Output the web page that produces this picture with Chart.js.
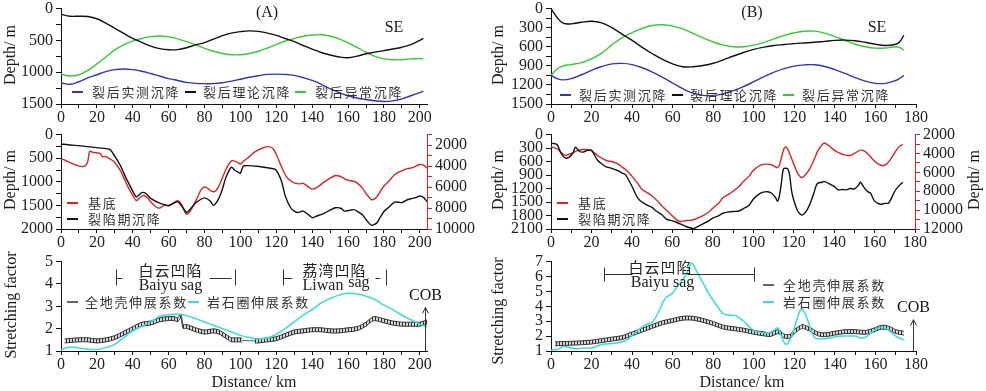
<!DOCTYPE html>
<html>
<head>
<meta charset="utf-8">
<script src="https://cdn.jsdelivr.net/npm/chart.js@4.4.1/dist/chart.umd.min.js"></script>
<style>
  html, body { margin: 0; padding: 0; background: #fff; }
  body { width: 986px; height: 391px; position: relative; overflow: hidden; }
  canvas { position: absolute; }
</style>
</head>
<body>
<script>
// ---- (A) post-rift subsidence ----
const topA_km = [0,5,10,15,20,25,30,35,40,45,50,55,60,65,70,75,80,85,90,95,100,105,110,115,120,125,130,135,140,145,150,155,160,165,170,175,180,185,190,195,200,202];
const topA_measured = [1170,1190,1150,1090,1040,990,960,950,960,985,1020,1060,1100,1130,1160,1175,1180,1180,1165,1140,1110,1080,1055,1035,1030,1035,1050,1085,1130,1190,1260,1320,1370,1405,1430,1450,1460,1450,1420,1370,1320,1300];
const topA_theory = [90,120,120,125,160,230,310,390,470,530,590,630,648,645,615,571,535,480,425,385,362,350,358,385,420,470,520,580,638,690,730,760,772,748,710,685,660,635,607,565,500,470];
const topA_anomaly = [1030,1060,1040,970,870,760,650,570,510,470,440,430,445,475,520,570,625,670,705,725,725,705,670,620,565,510,470,435,415,410,430,475,540,610,690,750,790,805,805,790,785,795];

// ---- (B) post-rift subsidence ----
const topB_km = [0,3,6,10,15,20,25,30,35,40,45,50,55,60,65,70,75,80,85,90,95,100,105,110,115,120,125,130,135,140,145,150,155,160,165,170,172,174];
const topB_measured = [1050,1100,1120,1100,1040,970,910,870,862,880,930,1000,1080,1170,1260,1330,1365,1365,1340,1290,1225,1150,1070,1000,945,905,885,882,910,960,1020,1085,1140,1175,1175,1130,1095,1050];
const topB_theory = [0,140,230,240,215,200,225,300,400,500,610,710,800,870,915,915,895,860,805,745,690,640,605,580,565,550,540,530,515,500,495,505,530,560,580,560,520,420];
const topB_anomaly = [1050,950,900,880,850,790,700,570,460,380,310,265,255,275,320,390,460,525,575,600,600,575,530,475,420,380,355,355,385,440,500,560,600,622,620,600,615,650];

// ---- (A) basement / syn-rift subsidence ----
const midA_rift_km = [0,27,29,31,33,36,38,40,42,45,47,50,55,60,63,65,67,70,72,75,78,80,83,85,88,90,92,95,97,99,100,102,119,121,123,125,128,130,132,135,138,140,143,146,150,153,156,158,160,163,165,168,170,173,176,178,180,183,186,190,193,195,198,200,202,204];
const midA_rift = [200,310,400,520,650,900,1050,1200,1320,1230,1240,1350,1450,1500,1450,1420,1500,1650,1580,1450,1370,1340,1400,1500,1350,1150,900,690,760,800,820,660,730,820,1000,1300,1550,1620,1650,1620,1700,1760,1720,1680,1600,1550,1560,1620,1610,1590,1620,1700,1800,1920,1870,1750,1630,1530,1430,1440,1380,1360,1330,1300,1330,1420];
const midA_base_km = [0,3,6,9,12,14,15,16,18,20,22,23,25,27,29,31,33,36,38,40,42,44,46,48,50,53,55,58,60,62,65,67,70,72,74,76,78,80,82,84,86,88,90,92,95,98,100,102,105,108,112,115,118,120,122,124,126,128,130,133,135,138,140,143,146,150,153,155,158,160,163,165,168,170,173,175,177,180,183,186,190,193,196,200,202,204];
const midA_base = [3300,3500,3750,3950,4050,3900,3500,2600,2700,2750,2800,3100,3100,3300,3500,3900,4400,5500,6200,6800,7300,7000,6800,7000,7400,7900,8000,7700,7800,7600,7300,7600,8600,8300,7700,7000,6300,6000,6150,6400,6400,5900,5100,4300,3500,3600,3800,3500,3100,2650,2300,2150,2300,2900,3700,4500,5100,5400,5600,5700,5650,6000,6200,6000,5600,5150,4900,4950,5200,5350,5450,5600,6100,6600,7200,7100,6700,5900,5400,4800,4450,4250,4150,3850,3900,4200];

// ---- (B) basement / syn-rift subsidence ----
const midB_rift_km = [0,3,5,7,9,11,12,14,16,18,20,23,25,27,30,33,35,37,40,43,45,48,50,52,55,57,60,62,65,67,70,72,75,78,80,83,85,88,90,93,95,98,100,103,105,107,109,111,112,113,114,115,117,118,119,120,122,124,126,128,130,131,132,134,135,137,140,142,144,146,148,150,152,153,155,157,158,160,163,165,167,170,172,174];
const midB_rift = [190,220,420,520,500,400,280,370,390,350,350,570,650,710,750,800,850,900,1150,1420,1500,1580,1620,1700,1790,1880,1920,1950,2010,2050,2090,2060,1990,1920,1860,1800,1750,1720,1710,1700,1650,1570,1440,1320,1280,1270,1300,1400,1480,1350,1050,760,760,900,1260,1450,1700,1790,1720,1550,1300,1150,1080,1060,1040,1080,1150,1230,1220,1230,1200,1210,1130,1060,1190,1280,1300,1480,1550,1530,1520,1260,1140,1060];
const midB_base_km = [0,3,5,7,10,13,15,18,20,23,25,28,30,33,35,38,40,43,45,48,50,53,55,58,60,62,64,67,70,73,75,78,80,83,85,88,90,93,95,98,100,103,105,108,110,112,113,115,116,117,118,120,122,124,126,128,130,132,135,137,140,143,145,148,150,153,155,157,159,161,164,166,168,170,172,174];
const midB_base = [3300,3500,3900,4200,4000,3700,3600,3600,3700,4200,4500,4800,4850,5100,5400,5900,6400,7200,7800,8200,8500,9100,9600,10200,10600,11000,11200,11100,11050,10800,10600,10200,9800,9250,8700,8300,8000,7500,7000,6400,5800,5300,5150,5150,5300,5500,5200,3600,3300,3500,4000,5100,6100,6550,6200,5600,4700,3700,2900,3100,3650,4000,4150,4200,4000,3650,3750,4100,4600,5000,5300,5100,4600,3900,3300,3050];

// ---- (A) stretching factors ----
const botA_litho_km = [0,3,6,10,15,20,25,30,35,40,45,50,55,60,65,70,75,80,85,90,95,100,105,110,115,120,125,130,135,140,145,150,155,160,165,170,175,180,185,190,195,200,204];
const botA_litho = [1.05,1.15,1.17,1.14,1.08,1.07,1.15,1.3,1.6,1.9,2.1,2.3,2.55,2.62,2.65,2.58,2.45,2.3,2.15,2.0,1.85,1.7,1.6,1.55,1.58,1.75,2.0,2.3,2.6,2.85,3.15,3.35,3.5,3.58,3.55,3.45,3.3,3.05,2.85,2.6,2.4,2.2,2.08];
const botA_crust_km = [2,5,10,15,20,25,30,35,40,45,50,55,60,63,65,66,67,68,70,75,80,85,88,90,93,95,100,101,104,108,110,115,120,125,130,135,140,145,150,155,160,165,170,173,175,180,185,190,195,200,204];
const botA_crust = [1.45,1.47,1.5,1.5,1.45,1.5,1.6,1.8,2.0,2.2,2.25,2.4,2.45,2.45,2.4,2.5,2.55,2.1,2.1,1.95,1.85,1.9,1.85,1.75,1.6,1.5,1.5,1.47,null,1.45,1.45,1.5,1.55,1.7,1.85,1.9,1.95,1.95,1.9,1.9,1.95,2.0,2.2,2.4,2.45,2.35,2.25,2.2,2.2,2.2,2.3];
const botA_gap_km = [100,110];
const botA_gap = [1.47,1.45];

// ---- (B) stretching factors ----
const botB_litho_km = [0,3,6,8,10,13,16,20,23,26,30,35,38,40,43,46,50,53,55,57,58,60,62,64,66,68,69,70,72,74,76,78,80,82,85,88,91,93,95,98,100,103,106,109,111,112,113,115,116,117,119,121,123,124,126,128,130,133,137,140,145,150,153,156,160,163,166,170,174];
const botB_litho = [1.05,1.1,1.3,1.28,1.2,1.15,1.2,1.2,1.35,1.45,1.5,1.6,1.8,2.05,2.4,2.7,2.95,3.6,4.2,4.65,4.7,4.9,5.3,5.6,6.0,6.5,6.9,6.85,6.3,5.8,5.3,4.8,4.4,4.0,3.5,3.4,3.38,3.2,3.0,2.6,2.38,2.25,2.2,2.3,2.5,2.55,2.2,1.55,1.45,1.55,2.1,3.0,3.75,3.8,3.3,2.5,1.9,1.8,1.85,1.95,2.0,2.0,1.85,2.0,2.45,2.6,2.45,2.0,1.75];
const botB_crust_km = [2,5,10,15,20,25,30,35,40,45,50,55,60,65,70,75,80,85,90,95,100,105,108,110,112,113,115,118,120,122,124,126,128,130,133,136,140,145,150,155,158,160,163,166,168,170,174];
const botB_crust = [1.48,1.5,1.52,1.55,1.6,1.7,1.8,1.9,2.15,2.4,2.65,2.9,3.05,3.2,3.2,3.05,2.85,2.6,2.5,2.4,2.25,2.15,2.1,2.2,2.3,2.25,2.0,2.0,2.3,2.5,2.65,2.55,2.45,2.25,2.1,2.1,2.2,2.3,2.3,2.25,2.35,2.45,2.6,2.55,2.45,2.3,2.2];

const SERIF = '"Liberation Serif", "Times New Roman", serif';
const CJK = '"Noto Sans CJK SC", sans-serif';
const BLUE = '#3232c4', GREEN = '#33cc33', RED = '#dd2222', CYAN = '#35dede', INK = '#111';

const pts = (xs, ys) => xs.map((x, i) => ({ x: x, y: ys[i] }));
const shift = (ys, d) => ys.map(v => v == null ? null : v + d);

function line(xs, ys, color, extra) {
  return Object.assign({ data: pts(xs, ys), borderColor: color, borderWidth: 1.4,
    pointRadius: 0, fill: false, tension: 0.4 }, extra || {});
}

// hatch used for the crustal stretching band
const hatch = (() => {
  const c = document.createElement('canvas');
  c.width = 3; c.height = 3;
  const g = c.getContext('2d');
  g.fillStyle = '#d6d6d6'; g.fillRect(0, 0, 3, 3);
  g.fillStyle = '#2e2e2e'; g.fillRect(0, 0, 1, 3);
  return g.createPattern(c, 'repeat');
})();

function bandSets(xs, ys, h) {
  return [
    line(xs, shift(ys, h), '#333', { borderWidth: 1, tension: 0.3, order: 1 }),
    line(xs, shift(ys, -h), '#333', { borderWidth: 1, tension: 0.3, order: 1, fill: '-1', backgroundColor: hatch })
  ];
}

function xAxis(max, h) {
  return {
    type: 'linear', min: 0, max: max,
    afterFit(s) { s.height = h; },
    border: { color: INK, width: 1 },
    grid: { drawOnChartArea: false, tickLength: 4, color: INK },
    ticks: { stepSize: 10, includeBounds: false, autoSkip: false, maxRotation: 0, padding: 0,
      color: '#222', font: { family: SERIF, size: 16 },
      callback: v => (v % 20 === 0 ? v : '') }
  };
}

function yAxis(pos, min, max, step, every, w, color, reverse) {
  return {
    type: 'linear', position: pos, min: min, max: max, reverse: reverse,
    afterFit(s) { s.width = w; },
    border: { color: color, width: 1 },
    grid: { drawOnChartArea: false, tickLength: 5, color: color },
    ticks: { stepSize: step, includeBounds: false, autoSkip: false, padding: 3,
      color: '#222', font: { family: SERIF, size: 16 },
      callback: v => (Math.abs(v % every) < 1e-6 ? v : '') }
  };
}

const decorPlugin = {
  id: 'decor',
  afterDraw(chart) {
    const d = chart.canvas._decor;
    if (!d) return;
    const ctx = chart.ctx, X = chart.scales.x, Y = chart.scales.y;
    const px = v => X.getPixelForValue(v), py = v => Y.getPixelForValue(v);
    ctx.save();
    ctx.textAlign = 'center';
    ctx.textBaseline = 'middle';
    ctx.strokeStyle = '#333';
    ctx.lineWidth = 1;
    (d.segs || []).forEach(s => {
      ctx.beginPath();
      ctx.moveTo(Math.round(px(s[0])) + 0.5, Math.round(py(s[1])) + 0.5);
      ctx.lineTo(Math.round(px(s[2])) + 0.5, Math.round(py(s[3])) + 0.5);
      ctx.stroke();
    });
    if (d.arrow) {
      const a = d.arrow, x = Math.round(px(a.x)) + 0.5, y0 = py(a.y0), y1 = py(a.y1);
      ctx.beginPath();
      ctx.moveTo(x, y0); ctx.lineTo(x, y1);
      ctx.moveTo(x - 3, y1 + 6); ctx.lineTo(x, y1); ctx.lineTo(x + 3, y1 + 6);
      ctx.stroke();
      ctx.fillStyle = '#111';
      ctx.font = '16px ' + SERIF;
      ctx.fillText('COB', x, y1 - 12);
    }
    (d.notes || []).forEach(t => {
      ctx.fillStyle = '#222';
      ctx.font = t.f;
      ctx.letterSpacing = t.ls || '0px';
      ctx.fillText(t.s, px(t.x), py(t.y));
    });
    ctx.letterSpacing = '0px';
    ctx.translate(-d.ox, -d.oy);
    (d.texts || []).forEach(t => {
      ctx.save();
      ctx.fillStyle = '#1a1a1a';
      ctx.textAlign = 'center';
      ctx.font = t.f;
      ctx.translate(t.x, t.y);
      if (t.r) ctx.rotate(t.r);
      ctx.fillText(t.s, 0, 0);
      ctx.restore();
    });
    (d.legend || []).forEach(l => {
      ctx.strokeStyle = l.c;
      ctx.lineWidth = 2;
      ctx.beginPath();
      ctx.moveTo(l.x, l.y); ctx.lineTo(l.x + 11, l.y);
      ctx.stroke();
      ctx.fillStyle = '#333';
      ctx.textAlign = 'left';
      ctx.font = '13px ' + CJK;
      ctx.letterSpacing = '1.7px';
      ctx.fillText(l.s, l.tx, l.y);
      ctx.letterSpacing = '0px';
    });
    ctx.restore();
  }
};
Chart.register(decorPlugin);

function panel(box, plot, datasets, scales, decor) {
  const c = document.createElement('canvas');
  c.width = box.w; c.height = box.h;
  c.style.left = box.x + 'px'; c.style.top = box.y + 'px';
  c._decor = Object.assign({ ox: box.x, oy: box.y }, decor);
  document.body.appendChild(c);
  return new Chart(c, {
    type: 'line',
    data: { datasets: datasets },
    options: {
      responsive: false, animation: false, events: [],
      layout: { padding: { top: plot.t - box.y, left: 0, bottom: 0,
        right: box.x + box.w - plot.r - (plot.rw || 0) } },
      scales: scales,
      plugins: { legend: { display: false }, tooltip: { enabled: false } }
    }
  });
}

const yTitle = (s, x, y) => ({ s: s, x: x, y: y, r: -Math.PI / 2, f: '16px ' + SERIF });
const big = (s, x, y) => ({ s: s, x: x, y: y, f: '16px ' + SERIF });

// top row
panel({ x: 0, y: -4, w: 490, h: 130 }, { t: 6, r: 427 },
  [line(topA_km, topA_measured, BLUE), line(topA_km, topA_theory, INK), line(topA_km, topA_anomaly, GREEN)],
  { x: xAxis(204, 22), y: yAxis('left', 0, 1500, 250, 500, 61, INK, true) },
  { texts: [yTitle('Depth/ m', 11, 55), big('(A)', 267, 13), big('SE', 394, 28)],
    legend: [{ c: BLUE, x: 72, y: 92, tx: 92, s: '裂后实测沉降' },
             { c: INK, x: 185, y: 92, tx: 203, s: '裂后理论沉降' },
             { c: GREEN, x: 295, y: 92, tx: 315, s: '裂后异常沉降' }] });

panel({ x: 490, y: -4, w: 496, h: 130 }, { t: 6, r: 916 },
  [line(topB_km, topB_measured, BLUE), line(topB_km, topB_theory, INK), line(topB_km, topB_anomaly, GREEN)],
  { x: xAxis(180, 22), y: yAxis('left', 0, 1500, 150, 300, 61, INK, true) },
  { texts: [yTitle('Depth/ m', 499, 55), big('(B)', 752, 13), big('SE', 877, 28)],
    legend: [{ c: BLUE, x: 560, y: 95, tx: 579, s: '裂后实测沉降' },
             { c: INK, x: 672, y: 95, tx: 690, s: '裂后理论沉降' },
             { c: GREEN, x: 783, y: 95, tx: 802, s: '裂后异常沉降' }] });

// middle row
panel({ x: 0, y: 122, w: 490, h: 129 }, { t: 132, r: 427, rw: 63 },
  [line(midA_rift_km, midA_rift, INK, { tension: 0.25 }),
   line(midA_base_km, midA_base, RED, { tension: 0.3, yAxisID: 'y2' })],
  { x: xAxis(204, 22), y: yAxis('left', 0, 2000, 250, 500, 61, INK, true),
    y2: yAxis('right', 1000, 10000, 1000, 2000, 63, RED, true) },
  { texts: [yTitle('Depth/ m', 11, 180)],
    legend: [{ c: RED, x: 67, y: 203, tx: 88, s: '基底' },
             { c: INK, x: 67, y: 219, tx: 88, s: '裂陷期沉降' }] });

panel({ x: 490, y: 122, w: 496, h: 129 }, { t: 132, r: 915, rw: 71 },
  [line(midB_rift_km, midB_rift, INK, { tension: 0.25 }),
   line(midB_base_km, midB_base, RED, { tension: 0.3, yAxisID: 'y2' })],
  { x: xAxis(180, 22), y: yAxis('left', 0, 2100, 300, 300, 61, INK, true),
    y2: yAxis('right', 2000, 12000, 1000, 2000, 71, RED, true) },
  { texts: [yTitle('Depth/ m', 499, 180), yTitle('Depth/ m', 975, 180)],
    legend: [{ c: RED, x: 557, y: 203, tx: 578, s: '基底' },
             { c: INK, x: 557, y: 219, tx: 578, s: '裂陷期沉降' }] });

// bottom row
const cjk15 = '15px ' + CJK, ser16 = '16px ' + SERIF;
panel({ x: 0, y: 249, w: 490, h: 142 }, { t: 259, r: 427 },
  [line(botA_litho_km, botA_litho, CYAN, { order: 0, borderWidth: 1.5 }),
   ...bandSets(botA_crust_km, botA_crust, 0.09),
   line(botA_gap_km, botA_gap, '#555', { borderWidth: 1, order: 2 })],
  { x: xAxis(204, 40), y: yAxis('left', 1, 5, 1, 1, 61, INK, false) },
  { texts: [yTitle('Stretching factor', 12, 305), big('Distance/ km', 254, 383)],
    legend: [{ c: '#666', x: 67, y: 302, tx: 85, s: '全地壳伸展系数' },
             { c: CYAN, x: 188, y: 302, tx: 207, s: '岩石圈伸展系数' }],
    segs: [[30.5, 3.95, 30.5, 4.65], [30.5, 4.27, 34, 4.27], [82.5, 4.27, 94.5, 4.27], [97, 3.95, 97, 4.65],
           [124, 3.95, 124, 4.65], [124, 4.27, 128.5, 4.27], [175, 4.27, 178, 4.27], [181, 3.95, 181, 4.65]],
    notes: [{ s: '白云凹陷', x: 61, y: 4.6, f: cjk15, ls: '1px' }, { s: 'Baiyu sag', x: 61, y: 3.92, f: ser16 },
            { s: '荔湾凹陷', x: 152.5, y: 4.62, f: cjk15, ls: '1px' }, { s: 'Liwan', x: 146, y: 3.92, f: ser16 },
            { s: 'sag', x: 166, y: 4.05, f: ser16 }],
    arrow: { x: 203, y0: 1, y1: 2.95 } });

panel({ x: 490, y: 249, w: 496, h: 142 }, { t: 259, r: 916 },
  [line(botB_litho_km, botB_litho, CYAN, { order: 0, borderWidth: 1.5, tension: 0.3 }),
   ...bandSets(botB_crust_km, botB_crust, 0.13)],
  { x: xAxis(180, 40), y: yAxis('left', 1, 7, 1, 1, 61, INK, false) },
  { texts: [yTitle('Stretching factor', 499, 311), big('Distance/ km', 742, 383)],
    legend: [{ c: '#666', x: 763, y: 285, tx: 783, s: '全地壳伸展系数' },
             { c: CYAN, x: 763, y: 302, tx: 783, s: '岩石圈伸展系数' }],
    segs: [[26.1, 5.7, 26.1, 6.67], [26.1, 6.17, 40, 6.17], [67, 6.17, 100, 6.17], [100, 5.7, 100, 6.67]],
    notes: [{ s: '白云凹陷', x: 54, y: 6.62, f: cjk15, ls: '1px' }, { s: 'Baiyu sag', x: 55, y: 5.56, f: ser16 }],
    arrow: { x: 178.5, y0: 1, y1: 3.1 } });
</script>
</body>
</html>
